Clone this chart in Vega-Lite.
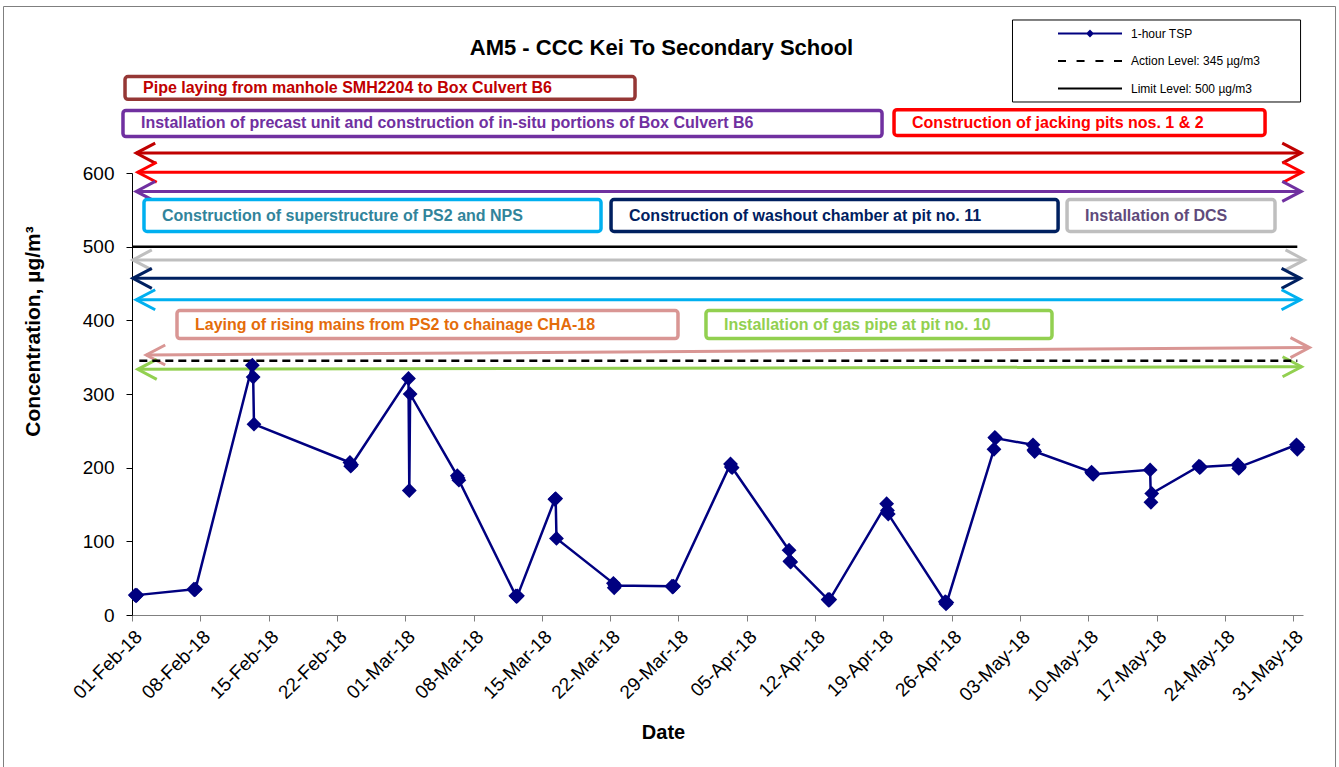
{
  "$schema": "https://vega.github.io/schema/vega-lite/v6.json",
  "width": 1171,
  "height": 442,
  "autosize": {"type": "none"},
  "padding": {"left": 132, "top": 173, "right": 36, "bottom": 152},
  "background": "white",
  "title": {"text": "AM5 - CCC Kei To Secondary School", "frame": "group", "anchor": "middle", "dx": -56, "offset": -54, "fontSize": 22, "fontWeight": "bold", "font": "Liberation Sans", "color": "black"},
  "config": {"view": {"stroke": null}, "font": "Liberation Sans"},
  "resolve": {"scale": {"color": "independent", "stroke": "independent", "shape": "independent", "strokeDash": "independent"}},
  "datasets": {
    "tsp": [
      {"date": "2018-02-01T08:00:00Z", "tsp": 27}, {"date": "2018-02-01T10:00:00Z", "tsp": 26}, {"date": "2018-02-01T12:00:00Z", "tsp": 27},
      {"date": "2018-02-07T08:00:00Z", "tsp": 35}, {"date": "2018-02-07T10:00:00Z", "tsp": 34}, {"date": "2018-02-07T12:00:00Z", "tsp": 35},
      {"date": "2018-02-13T08:00:00Z", "tsp": 339}, {"date": "2018-02-13T10:00:00Z", "tsp": 323}, {"date": "2018-02-13T12:00:00Z", "tsp": 259},
      {"date": "2018-02-23T08:00:00Z", "tsp": 207}, {"date": "2018-02-23T10:00:00Z", "tsp": 202}, {"date": "2018-02-23T12:00:00Z", "tsp": 204},
      {"date": "2018-03-01T08:00:00Z", "tsp": 321}, {"date": "2018-03-01T10:00:00Z", "tsp": 169}, {"date": "2018-03-01T12:00:00Z", "tsp": 300},
      {"date": "2018-03-06T08:00:00Z", "tsp": 189}, {"date": "2018-03-06T10:00:00Z", "tsp": 186}, {"date": "2018-03-06T12:00:00Z", "tsp": 183},
      {"date": "2018-03-12T08:00:00Z", "tsp": 26}, {"date": "2018-03-12T10:00:00Z", "tsp": 25}, {"date": "2018-03-12T12:00:00Z", "tsp": 26},
      {"date": "2018-03-16T08:00:00Z", "tsp": 157}, {"date": "2018-03-16T10:00:00Z", "tsp": 158}, {"date": "2018-03-16T12:00:00Z", "tsp": 104},
      {"date": "2018-03-22T08:00:00Z", "tsp": 43}, {"date": "2018-03-22T10:00:00Z", "tsp": 37}, {"date": "2018-03-22T12:00:00Z", "tsp": 40},
      {"date": "2018-03-28T08:00:00Z", "tsp": 39}, {"date": "2018-03-28T10:00:00Z", "tsp": 38}, {"date": "2018-03-28T12:00:00Z", "tsp": 39},
      {"date": "2018-04-03T08:00:00Z", "tsp": 205}, {"date": "2018-04-03T10:00:00Z", "tsp": 201}, {"date": "2018-04-03T12:00:00Z", "tsp": 200},
      {"date": "2018-04-09T08:00:00Z", "tsp": 88}, {"date": "2018-04-09T10:00:00Z", "tsp": 73}, {"date": "2018-04-09T12:00:00Z", "tsp": 72},
      {"date": "2018-04-13T08:00:00Z", "tsp": 21}, {"date": "2018-04-13T10:00:00Z", "tsp": 20}, {"date": "2018-04-13T12:00:00Z", "tsp": 21},
      {"date": "2018-04-19T08:00:00Z", "tsp": 151}, {"date": "2018-04-19T10:00:00Z", "tsp": 142}, {"date": "2018-04-19T12:00:00Z", "tsp": 137},
      {"date": "2018-04-25T08:00:00Z", "tsp": 18}, {"date": "2018-04-25T10:00:00Z", "tsp": 15}, {"date": "2018-04-25T12:00:00Z", "tsp": 17},
      {"date": "2018-04-30T08:00:00Z", "tsp": 225}, {"date": "2018-04-30T10:00:00Z", "tsp": 241}, {"date": "2018-04-30T12:00:00Z", "tsp": 240},
      {"date": "2018-05-04T08:00:00Z", "tsp": 231}, {"date": "2018-05-04T10:00:00Z", "tsp": 224}, {"date": "2018-05-04T12:00:00Z", "tsp": 222},
      {"date": "2018-05-10T08:00:00Z", "tsp": 194}, {"date": "2018-05-10T10:00:00Z", "tsp": 192}, {"date": "2018-05-10T12:00:00Z", "tsp": 191},
      {"date": "2018-05-16T08:00:00Z", "tsp": 197}, {"date": "2018-05-16T10:00:00Z", "tsp": 153}, {"date": "2018-05-16T12:00:00Z", "tsp": 165},
      {"date": "2018-05-21T08:00:00Z", "tsp": 202}, {"date": "2018-05-21T10:00:00Z", "tsp": 200}, {"date": "2018-05-21T12:00:00Z", "tsp": 201},
      {"date": "2018-05-25T08:00:00Z", "tsp": 204}, {"date": "2018-05-25T10:00:00Z", "tsp": 199}, {"date": "2018-05-25T12:00:00Z", "tsp": 201},
      {"date": "2018-05-31T08:00:00Z", "tsp": 231}, {"date": "2018-05-31T10:00:00Z", "tsp": 225}, {"date": "2018-05-31T12:00:00Z", "tsp": 228}
    ],
    "levels": [
      {"series": "Limit Level: 500 µg/m3", "value": 500, "start": "2018-02-01T00:00:00Z", "end": "2018-05-31T10:00:00Z"},
      {"series": "Action Level: 345 µg/m3", "value": 345, "start": "2018-02-01T18:00:00Z", "end": "2018-05-31T10:00:00Z"}
    ],
    "arrows": [
      {"activity": "pipe", "start": "2018-02-01T10:20:00Z", "end": "2018-05-31T19:40:00Z", "yStart": 627, "yEnd": 627},
      {"activity": "jacking", "start": "2018-02-01T14:10:00Z", "end": "2018-05-31T22:00:00Z", "yStart": 601, "yEnd": 601},
      {"activity": "precast", "start": "2018-02-01T10:20:00Z", "end": "2018-05-31T19:40:00Z", "yStart": 575, "yEnd": 575},
      {"activity": "dcs", "start": "2018-02-01T02:00:00Z", "end": "2018-06-01T03:50:00Z", "yStart": 482, "yEnd": 482},
      {"activity": "washout", "start": "2018-02-01T02:00:00Z", "end": "2018-05-31T18:00:00Z", "yStart": 457, "yEnd": 457},
      {"activity": "superstructure", "start": "2018-02-01T10:20:00Z", "end": "2018-05-31T18:00:00Z", "yStart": 428, "yEnd": 428},
      {"activity": "rising", "start": "2018-02-02T11:00:00Z", "end": "2018-06-01T16:00:00Z", "yStart": 353, "yEnd": 363},
      {"activity": "gas", "start": "2018-02-01T14:10:00Z", "end": "2018-05-31T20:30:00Z", "yStart": 333.5, "yEnd": 337}
    ],
    "boxes": [
      {"activity": "pipe", "label": "Pipe laying from manhole SMH2204 to Box Culvert B6", "start": "2018-01-31T06:50:00Z", "end": "2018-03-24T13:10:00Z", "top": 731, "bottom": 700, "mid": 715.5},
      {"activity": "precast", "label": "Installation of precast unit and construction of in-situ portions of Box Culvert B6", "start": "2018-01-31T01:50:00Z", "end": "2018-04-18T20:40:00Z", "top": 685, "bottom": 649.5, "mid": 667.2},
      {"activity": "jacking", "label": "Construction of jacking pits nos. 1 & 2", "start": "2018-04-20T02:10:00Z", "end": "2018-05-28T02:40:00Z", "top": 686, "bottom": 651, "mid": 668.5},
      {"activity": "superstructure", "label": "Construction of superstructure of PS2 and NPS", "start": "2018-02-02T05:30:00Z", "end": "2018-03-21T01:30:00Z", "top": 564, "bottom": 520.6, "mid": 542.3},
      {"activity": "washout", "label": "Construction of washout chamber at pit no. 11", "start": "2018-03-22T02:10:00Z", "end": "2018-05-06T21:40:00Z", "top": 564, "bottom": 520.6, "mid": 542.3},
      {"activity": "dcs", "label": "Installation of DCS", "start": "2018-05-07T19:40:00Z", "end": "2018-05-29T03:10:00Z", "top": 564, "bottom": 520.6, "mid": 542.3},
      {"activity": "rising", "label": "Laying of rising mains from PS2 to chainage CHA-18", "start": "2018-02-05T14:40:00Z", "end": "2018-03-28T22:50:00Z", "top": 413.3, "bottom": 375.3, "mid": 394.3},
      {"activity": "gas", "label": "Installation of gas pipe at pit no. 10", "start": "2018-03-31T19:40:00Z", "end": "2018-05-06T06:40:00Z", "top": 413.3, "bottom": 375.3, "mid": 394.3}
    ]
  },
  "layer": [
    {
      "data": {"values": [{}]},
      "mark": {"type": "rect", "filled": false, "stroke": "#7f7f7f", "strokeWidth": 1},
      "encoding": {
        "x": {"datum": {"year": 2018, "month": "jan", "date": 18, "hours": 20, "utc": true}, "type": "temporal", "scale": {"type": "utc", "domain": [{"year": 2018, "month": "feb", "date": 1, "utc": true}, {"year": 2018, "month": "jun", "date": 1, "utc": true}]}},
        "x2": {"datum": {"year": 2018, "month": "jun", "date": 4, "hours": 8, "utc": true}},
        "y": {"datum": 826, "type": "quantitative", "scale": {"domain": [0, 600], "nice": false}},
        "y2": {"datum": -217}
      }
    },
    {
      "data": {"values": [{}]},
      "mark": {"type": "rect", "fill": "white", "stroke": "black", "strokeWidth": 1},
      "encoding": {
        "x": {"datum": {"year": 2018, "month": "may", "date": 2, "hours": 5, "minutes": 30, "utc": true}, "type": "temporal", "scale": {"type": "utc", "domain": [{"year": 2018, "month": "feb", "date": 1, "utc": true}, {"year": 2018, "month": "jun", "date": 1, "utc": true}]}},
        "x2": {"datum": {"year": 2018, "month": "may", "date": 31, "hours": 18, "utc": true}},
        "y": {"datum": 807.7, "type": "quantitative", "scale": {"domain": [0, 600], "nice": false}},
        "y2": {"datum": 696.4}
      }
    },
    {
      "data": {"name": "arrows"},
      "mark": {"type": "rule", "strokeWidth": 3},
      "encoding": {
        "x": {"field": "start", "type": "temporal", "scale": {"type": "utc", "domain": [{"year": 2018, "month": "feb", "date": 1, "utc": true}, {"year": 2018, "month": "jun", "date": 1, "utc": true}]}},
        "x2": {"field": "end"},
        "y": {"field": "yStart", "type": "quantitative", "scale": {"domain": [0, 600], "nice": false}},
        "y2": {"field": "yEnd"},
        "color": {"field": "activity", "type": "nominal", "legend": null, "scale": {"domain": ["pipe", "jacking", "precast", "dcs", "washout", "superstructure", "rising", "gas"], "range": ["#C00000", "#FF0000", "#7030A0", "#BFBFBF", "#002060", "#00B0F0", "#D99694", "#92D050"]}}
      }
    },
    {
      "data": {"name": "arrows"},
      "mark": {"type": "point", "shape": "M1.9,-1L0,0L1.9,1", "filled": false, "strokeWidth": 3, "size": 400, "opacity": 1},
      "encoding": {
        "x": {"field": "start", "type": "temporal", "scale": {"type": "utc", "domain": [{"year": 2018, "month": "feb", "date": 1, "utc": true}, {"year": 2018, "month": "jun", "date": 1, "utc": true}]}},
        "y": {"field": "yStart", "type": "quantitative", "scale": {"domain": [0, 600], "nice": false}},
        "color": {"field": "activity", "type": "nominal", "legend": null, "scale": {"domain": ["pipe", "jacking", "precast", "dcs", "washout", "superstructure", "rising", "gas"], "range": ["#C00000", "#FF0000", "#7030A0", "#BFBFBF", "#002060", "#00B0F0", "#D99694", "#92D050"]}}
      }
    },
    {
      "data": {"name": "arrows"},
      "mark": {"type": "point", "shape": "M-1.9,-1L0,0L-1.9,1", "filled": false, "strokeWidth": 3, "size": 400, "opacity": 1},
      "encoding": {
        "x": {"field": "end", "type": "temporal", "scale": {"type": "utc", "domain": [{"year": 2018, "month": "feb", "date": 1, "utc": true}, {"year": 2018, "month": "jun", "date": 1, "utc": true}]}},
        "y": {"field": "yEnd", "type": "quantitative", "scale": {"domain": [0, 600], "nice": false}},
        "color": {"field": "activity", "type": "nominal", "legend": null, "scale": {"domain": ["pipe", "jacking", "precast", "dcs", "washout", "superstructure", "rising", "gas"], "range": ["#C00000", "#FF0000", "#7030A0", "#BFBFBF", "#002060", "#00B0F0", "#D99694", "#92D050"]}}
      }
    },
    {
      "data": {"name": "boxes"},
      "mark": {"type": "rect", "fill": "white", "strokeWidth": 3.5, "cornerRadius": 3},
      "encoding": {
        "x": {"field": "start", "type": "temporal", "scale": {"type": "utc", "domain": [{"year": 2018, "month": "feb", "date": 1, "utc": true}, {"year": 2018, "month": "jun", "date": 1, "utc": true}]}},
        "x2": {"field": "end"},
        "y": {"field": "top", "type": "quantitative", "scale": {"domain": [0, 600], "nice": false}},
        "y2": {"field": "bottom"},
        "stroke": {"field": "activity", "type": "nominal", "legend": null, "scale": {"domain": ["pipe", "jacking", "precast", "dcs", "washout", "superstructure", "rising", "gas"], "range": ["#953735", "#FF0000", "#7030A0", "#BFBFBF", "#002060", "#00B0F0", "#D99694", "#92D050"]}}
      }
    },
    {
      "data": {"name": "boxes"},
      "mark": {"type": "text", "align": "left", "baseline": "middle", "dx": 18, "fontSize": 16, "fontWeight": "bold", "font": "Liberation Sans"},
      "encoding": {
        "x": {"field": "start", "type": "temporal", "scale": {"type": "utc", "domain": [{"year": 2018, "month": "feb", "date": 1, "utc": true}, {"year": 2018, "month": "jun", "date": 1, "utc": true}]}},
        "y": {"field": "mid", "type": "quantitative", "scale": {"domain": [0, 600], "nice": false}},
        "text": {"field": "label"},
        "color": {"field": "activity", "type": "nominal", "legend": null, "scale": {"domain": ["pipe", "jacking", "precast", "dcs", "washout", "superstructure", "rising", "gas"], "range": ["#C00000", "#FF0000", "#7030A0", "#604A7B", "#002060", "#31849B", "#E46C0A", "#92D050"]}}
      }
    },
    {
      "data": {"name": "levels"},
      "mark": {"type": "rule", "strokeWidth": 2.5, "color": "black"},
      "encoding": {
        "x": {"field": "start", "type": "temporal", "scale": {"type": "utc", "domain": [{"year": 2018, "month": "feb", "date": 1, "utc": true}, {"year": 2018, "month": "jun", "date": 1, "utc": true}]}},
        "x2": {"field": "end"},
        "y": {"field": "value", "type": "quantitative", "scale": {"domain": [0, 600], "nice": false}},
        "strokeDash": {"field": "series", "type": "nominal", "legend": null, "scale": {"domain": ["Action Level: 345 µg/m3", "Limit Level: 500 µg/m3"], "range": [[8, 5], [1, 0]]}}
      }
    },
    {
      "data": {"name": "tsp"},
      "mark": {"type": "line", "color": "#000080", "strokeWidth": 2.5},
      "encoding": {
        "x": {"field": "date", "type": "temporal", "scale": {"type": "utc", "domain": [{"year": 2018, "month": "feb", "date": 1, "utc": true}, {"year": 2018, "month": "jun", "date": 1, "utc": true}]},
          "axis": {"values": [
            {"year": 2018, "month": "feb", "date": 1, "utc": true}, {"year": 2018, "month": "feb", "date": 8, "utc": true}, {"year": 2018, "month": "feb", "date": 15, "utc": true}, {"year": 2018, "month": "feb", "date": 22, "utc": true},
            {"year": 2018, "month": "mar", "date": 1, "utc": true}, {"year": 2018, "month": "mar", "date": 8, "utc": true}, {"year": 2018, "month": "mar", "date": 15, "utc": true}, {"year": 2018, "month": "mar", "date": 22, "utc": true}, {"year": 2018, "month": "mar", "date": 29, "utc": true},
            {"year": 2018, "month": "apr", "date": 5, "utc": true}, {"year": 2018, "month": "apr", "date": 12, "utc": true}, {"year": 2018, "month": "apr", "date": 19, "utc": true}, {"year": 2018, "month": "apr", "date": 26, "utc": true},
            {"year": 2018, "month": "may", "date": 3, "utc": true}, {"year": 2018, "month": "may", "date": 10, "utc": true}, {"year": 2018, "month": "may", "date": 17, "utc": true}, {"year": 2018, "month": "may", "date": 24, "utc": true}, {"year": 2018, "month": "may", "date": 31, "utc": true}],
            "format": "%d-%b-%y", "labelAngle": -45, "labelFontSize": 19, "labelColor": "black", "labelPadding": 6, "labelFlush": false, "labelOverlap": false, "labelBound": false,
            "tickSize": 6, "tickColor": "#808080", "domainColor": "#808080", "grid": false,
            "title": "Date", "titleFontSize": 20, "titleFontWeight": "bold", "titleColor": "black", "titleX": 531, "titleY": 117, "titleBaseline": "middle", "titleAlign": "center"}},
        "y": {"field": "tsp", "type": "quantitative", "scale": {"domain": [0, 600], "nice": false},
          "axis": {"values": [0, 100, 200, 300, 400, 500, 600], "labelFontSize": 19, "labelColor": "black", "labelPadding": 12, "tickSize": 6, "tickColor": "black", "domainColor": "black", "grid": false,
            "title": "Concentration, µg/m³", "titleFontSize": 21, "titleFontWeight": "bold", "titleColor": "black", "titleX": -99, "titleY": 158, "titleBaseline": "middle", "titleAlign": "center", "titleAngle": -90}}
      }
    },
    {
      "data": {"name": "tsp"},
      "mark": {"type": "point", "shape": "diamond", "filled": true, "size": 220, "color": "#000080", "opacity": 1},
      "encoding": {
        "x": {"field": "date", "type": "temporal", "scale": {"type": "utc", "domain": [{"year": 2018, "month": "feb", "date": 1, "utc": true}, {"year": 2018, "month": "jun", "date": 1, "utc": true}]}},
        "y": {"field": "tsp", "type": "quantitative", "scale": {"domain": [0, 600], "nice": false}}
      }
    },
    {
      "data": {"values": []},
      "mark": {"type": "point", "filled": false, "opacity": 1, "strokeWidth": 2},
      "encoding": {
        "shape": {"field": "series", "type": "nominal",
          "scale": {"domain": ["1-hour TSP", "Action Level: 345 µg/m3", "Limit Level: 500 µg/m3"], "range": ["M-1,0H1M0,-0.08L0.08,0L0,0.08L-0.08,0Z", "M-1,0H-0.75M-0.42,0H-0.17M0.17,0H0.42M0.75,0H1", "M-1,0H1"]},
          "legend": {"title": null, "orient": "none", "legendX": 881, "legendY": -153, "direction": "vertical", "padding": 7, "strokeColor": null, "fillColor": null, "symbolSize": 4096, "symbolStrokeWidth": 2, "symbolOffset": 37, "labelOffset": 8, "labelFontSize": 12, "labelFont": "Liberation Sans", "labelColor": "black", "rowPadding": 14.5, "clipHeight": 13}},
        "color": {"field": "series", "type": "nominal",
          "scale": {"domain": ["1-hour TSP", "Action Level: 345 µg/m3", "Limit Level: 500 µg/m3"], "range": ["#000080", "#000000", "#000000"]},
          "legend": {"title": null, "orient": "none", "legendX": 881, "legendY": -153, "direction": "vertical", "padding": 7, "strokeColor": null, "fillColor": null, "symbolSize": 4096, "symbolStrokeWidth": 2, "symbolOffset": 37, "labelOffset": 8, "labelFontSize": 12, "labelFont": "Liberation Sans", "labelColor": "black", "rowPadding": 14.5, "clipHeight": 13}}
      }
    }
  ]
}
